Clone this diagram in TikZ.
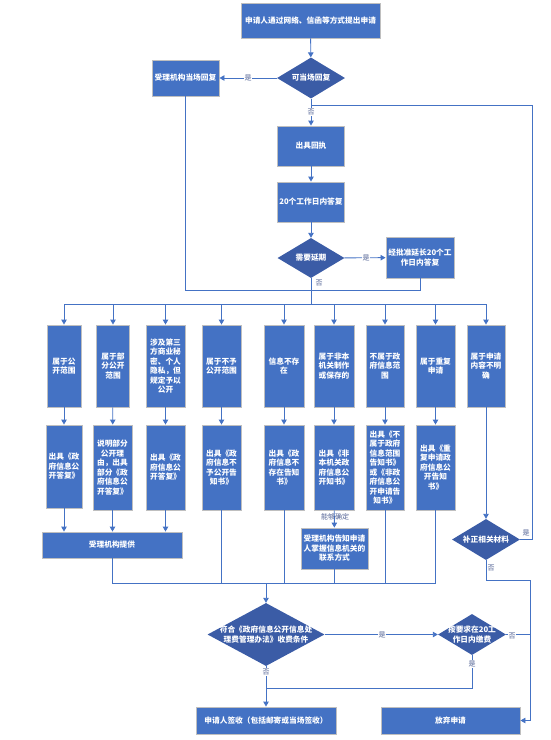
\documentclass[tikz,border=0pt]{standalone}
\usepackage{fontspec}
\newfontfamily\cjk{Noto Sans CJK SC}
\usetikzlibrary{arrows.meta,shapes.geometric}
\definecolor{boxblue}{HTML}{4472C4}
\definecolor{diablue}{HTML}{3B5CA6}
\definecolor{edgegray}{HTML}{BFBFBF}
\definecolor{lineblue}{HTML}{4472C4}
\definecolor{lblcol}{HTML}{4E5F92}
\begin{document}
\begin{tikzpicture}[x=1pt,y=-1pt,
  box/.style={rectangle,draw=edgegray,line width=0.9pt,fill=boxblue,text=white,
    font=\cjk\bfseries\fontsize{7.7}{9.5}\selectfont,align=center,inner sep=0pt},
  dia/.style={diamond,fill=diablue,inner sep=0pt},
  dtext/.style={text=white,font=\cjk\bfseries\fontsize{7.7}{9.5}\selectfont,align=center,inner sep=0pt},
  conn/.style={draw=lineblue,line width=0.9pt},
  arr/.style={conn,-{Triangle[width=5.5pt,length=5pt]}},
  lbl/.style={text=lblcol,font=\cjk\fontsize{7}{8}\selectfont,fill=white,inner sep=0.6pt}
]
\useasboundingbox (0,0) rectangle (551,740);

% top part
\node[box,minimum width=139pt,minimum height=35pt] (start) at (310.5,20.5) {申请人通过网络、信函等方式提出申请};
\node[dia,minimum width=68pt,minimum height=41pt] (d1) at (311,78) {};
\node[dtext] (d1t) at (d1) {可当场回复};
\node[box,minimum width=67pt,minimum height=36pt] (recv1) at (185.5,78) {受理机构当场回复};
\node[box,minimum width=67pt,minimum height=40pt] (receipt) at (311,146) {出具回执};
\node[box,minimum width=67pt,minimum height=40pt] (ans20) at (311,202) {20个工作日内答复};
\node[dia,minimum width=67pt,minimum height=40pt] (d2) at (311,258) {};
\node[dtext] (d2t) at (d2) {需要延期};
\node[box,minimum width=68pt,minimum height=41pt] (ext) at (420,257.5) {经批准延长20个工\\作日内答复};

% row 1
\node[box,minimum width=34pt,minimum height=82pt] (a1) at (64,366) {属于公\\开范围};
\node[box,minimum width=33pt,minimum height=82pt] (a2) at (113,366) {属于部\\分公开\\范围};
\node[box,minimum width=39pt,minimum height=82pt] (a3) at (165.5,366) {涉及第三\\方商业秘\\密、个人\\隐私，但\\规定予以\\公开};
\node[box,minimum width=39pt,minimum height=82pt] (a4) at (221.5,366) {属于不予\\公开范围};
\node[box,minimum width=40pt,minimum height=82pt] (a5) at (284,366) {信息不存\\在};
\node[box,minimum width=40pt,minimum height=82pt] (a6) at (334,366) {属于非本\\机关制作\\或保存的};
\node[box,minimum width=38pt,minimum height=82pt] (a7) at (385,366) {不属于政\\府信息范\\围};
\node[box,minimum width=39pt,minimum height=82pt] (a8) at (435.5,366) {属于重复\\申请};
\node[box,minimum width=38pt,minimum height=82pt] (a9) at (486,366) {属于申请\\内容不明\\确};

% row 2
\node[box,minimum width=36pt,minimum height=83pt] (b1) at (64,466.5) {出具《政\\府信息公\\开答复》};
\node[box,minimum width=39pt,minimum height=85pt] (b2) at (112.5,467.5) {说明部分\\公开理\\由，出具\\部分《政\\府信息公\\开答复》};
\node[box,minimum width=39pt,minimum height=85pt] (b3) at (165.5,467.5) {出具《政\\府信息公\\开答复》};
\node[box,minimum width=39pt,minimum height=85pt] (b4) at (221.5,467.5) {出具《政\\府信息不\\予公开告\\知书》};
\node[box,minimum width=40pt,minimum height=85pt] (b5) at (284,467.5) {出具《政\\府信息不\\存在告知\\书》};
\node[box,minimum width=40pt,minimum height=85pt] (b6) at (334,467.5) {出具《非\\本机关政\\府信息公\\开知书》};
\node[box,minimum width=38pt,minimum height=85pt] (b7) at (385,467.5) {出具《不\\属于政府\\信息范围\\告知书》\\或《非政\\府信息公\\开申请告\\知书》};
\node[box,minimum width=39pt,minimum height=85pt] (b8) at (435.5,467.5) {出具《重\\复申请政\\府信息公\\开告知\\书》};

% lower part
\node[box,minimum width=140pt,minimum height=26pt] (prov) at (112,545) {受理机构提供};
\node[box,minimum width=67pt,minimum height=41pt] (inform) at (334.5,548.5) {受理机构告知申请\\人掌握信息机关的\\联系方式};
\node[dia,minimum width=68pt,minimum height=41pt] (supp) at (486,539.5) {};
\node[dtext] (suppt) at (supp) {补正相关材料};
\node[dia,minimum width=117pt,minimum height=63pt] (md) at (266,634.5) {};
\node[dtext] (mdt) at (md) {符合《政府信息公开信息处\\理费管理办法》收费条件};
\node[dia,minimum width=68pt,minimum height=41pt] (d3) at (472,634.5) {};
\node[dtext] (d3t) at (d3) {按要求在20工\\作日内缴费};
\node[box,minimum width=140pt,minimum height=27pt] (sign) at (266,720.5) {申请人签收（包括邮寄或当场签收）};
\node[box,minimum width=139pt,minimum height=27pt] (giveup) at (450.5,720.5) {放弃申请};

% helper coordinates
\coordinate (join) at (0,290);
\coordinate (dist) at (0,304);
\coordinate (coll) at (0,583);
\coordinate (pay) at (0,688);
\coordinate (loopTop) at (532,105);
\coordinate (rightA) at (530,580);

% connectors
\draw[arr] (start) -- (d1);
\draw[arr] (d1) -- (recv1);
\draw[arr] (d1) -- (receipt);
\draw[arr] (receipt) -- (ans20);
\draw[arr] (ans20) -- (d2);
\draw[arr] (d2) -- (ext);
\draw[conn] (recv1.south) -- (recv1.south |- join) -- (ext.south |- join) -- (ext.south);
\draw[conn] (d2.south) -- (d2.south |- dist);
\draw[conn] (a1.north |- dist) -- (a9.north |- dist);
\foreach \n in {a1,a2,a3,a4,a5,a6,a7,a8,a9}{
  \draw[arr] (\n.north |- dist) -- (\n.north);
}
\foreach \a/\b in {a1/b1,a2/b2,a3/b3,a4/b4,a5/b5,a6/b6,a7/b7,a8/b8}{
  \draw[arr] (\a) -- (\b);
}
\draw[arr] (a9) -- (supp);
\foreach \n in {b1,b2,b3}{
  \draw[arr] (\n.south) -- (\n.south |- prov.north);
}
\draw[arr] (b6) -- (inform);
\draw[conn] (prov.south) -- (prov.south |- coll) -- (b8.south |- coll);
\foreach \n in {b4,b5,b7,b8,inform}{
  \draw[conn] (\n.south) -- (\n.south |- coll);
}
\draw[arr] (md.north |- coll) -- (md.north);
\draw[arr] (md) -- (d3);
\draw[arr] (md) -- (sign);
\draw[conn] (d3.south) -- (d3.south |- pay) -- (md.south |- pay);
\draw[conn] (d3.east) -- (d3.east -| rightA);
\draw[arr] (supp.south) |- (rightA) -- (rightA |- giveup.east) -- (giveup.east);
\draw[conn] (supp.east) -| (loopTop) -- (d1.south |- loopTop);

% labels
\node[lbl] (l1) at (248,78) {是};
\node[lbl] (l2) at (311,112) {否};
\node[lbl] (l3) at (366,258) {是};
\node[lbl] (l4) at (319,283) {否};
\node[lbl,fill=none] (l5) at (335,517) {能够确定};
\node[lbl,fill=none] (l6) at (526,533) {是};
\node[lbl] (l7) at (491,568) {否};
\node[lbl] (l8) at (382,635) {是};
\node[lbl] (l9) at (512,636) {否};
\node[lbl] (l10) at (472,664) {是};
\node[lbl] (l11) at (266,672) {否};
\end{tikzpicture}
\end{document}
